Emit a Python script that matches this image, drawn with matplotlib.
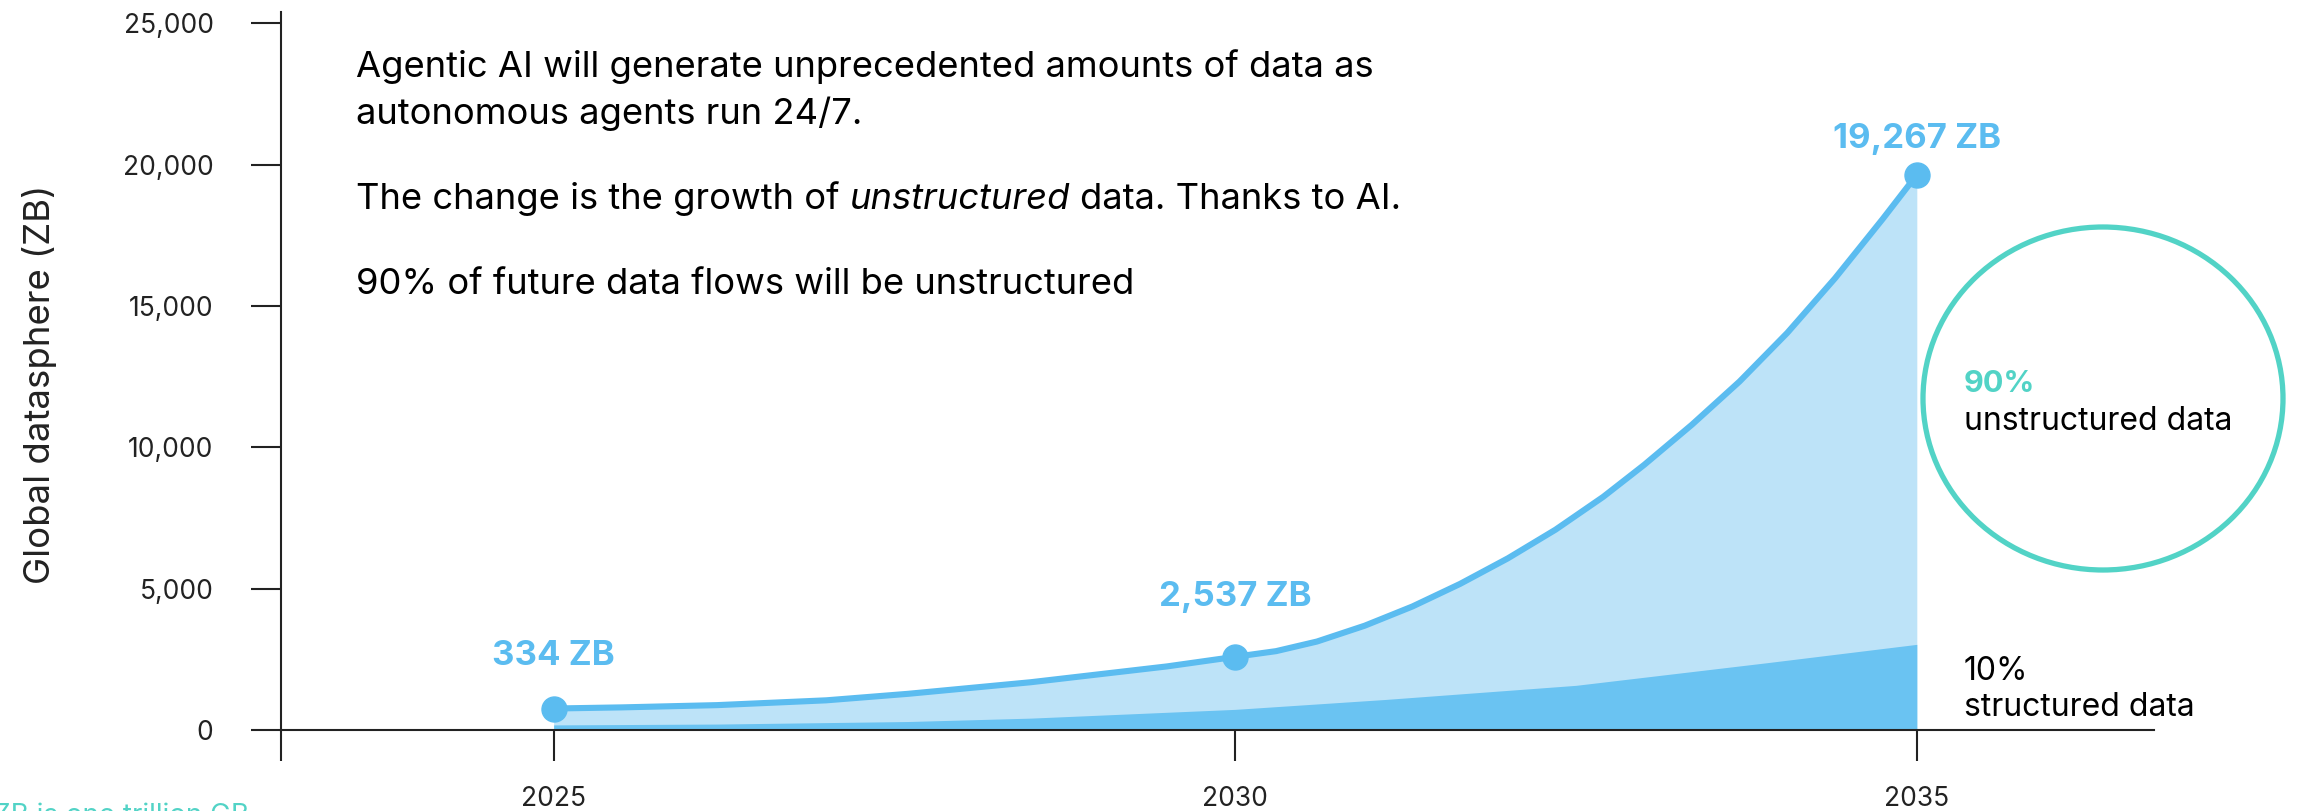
import matplotlib
matplotlib.use("Agg")
import matplotlib.pyplot as plt
from matplotlib.patches import Ellipse
from matplotlib.ticker import FuncFormatter

FONT = ["Inter", "DejaVu Sans"]
plt.rcParams["font.family"] = FONT

# ---------------- data ----------------
years_total = [2025, 2025.5, 2026.2, 2027.0, 2027.6, 2028.5, 2029.5, 2030,
               2030.3, 2030.6, 2030.95, 2031.3, 2031.65, 2032.0, 2032.35,
               2032.7, 2033.0, 2033.35, 2033.7, 2034.05, 2034.4, 2034.75, 2035]
total_zb = [760, 800, 880, 1050, 1280, 1690, 2250, 2590,
            2790, 3130, 3690, 4370, 5170, 6073, 7088,
            8250, 9380, 10800, 12330, 14050, 15980, 18080, 19640]

years_struct = [2025, 2026.2, 2027.6, 2028.5, 2030, 2031.1, 2032.5, 2033.9, 2035]
struct_zb = [180, 210, 300, 420, 730, 1080, 1580, 2380, 3030]

point_years = [2025, 2030, 2035]
point_zb = [760, 2590, 19640]
point_labels = ["334 ZB", "2,537 ZB", "19,267 ZB"]

x_ticks = [2023, 2025, 2030, 2035]
x_ticklabels = ["", "2025", "2030", "2035"]
y_ticks = [0, 5000, 10000, 15000, 20000, 25000]

text_lines = ["Agentic AI will generate unprecedented amounts of data as",
              "autonomous agents run 24/7."]
text_change = ["The change is the growth of", "unstructured", "data. Thanks to AI."]
text_last = "90% of future data flows will be unstructured"
footnote = "1 ZB is one trillion GB"

# ---------------- styling ----------------
W, H = 2298, 811
LINE = "#5BBCF0"
LIGHT = "#BDE3F8"
DARK = "#6AC3F2"
TEAL = "#52D3C6"
INK = "#222222"

fig = plt.figure(figsize=(W / 100, H / 100), dpi=100)
ax = fig.add_axes([281 / W, 1 - 730 / H, (2154 - 281) / W, (730 - 12) / H])

ax.fill_between(years_total, 0, total_zb, color=LIGHT, lw=0, zorder=1)
ax.fill_between(years_struct, 0, struct_zb, color=DARK, lw=0, zorder=2)
ax.plot(years_total, total_zb, color=LINE, lw=4.4, solid_capstyle="round",
        solid_joinstyle="round", zorder=3)
ax.plot(point_years, point_zb, "o", color=LINE, ms=18, zorder=4)

offsets = [38, 43, 26]
for xv, yv, lab, off in zip(point_years, point_zb, point_labels, offsets):
    ax.annotate(lab, (xv, yv), xytext=(0, off), textcoords="offset points",
                ha="center", va="center", color=LINE, fontsize=25,
                fontweight="bold")

ax.set_xlim(2023, 2036.74)
ax.set_ylim(0, 25400)
ax.set_xticks(x_ticks)
ax.set_xticklabels(x_ticklabels)
ax.set_yticks(y_ticks)
ax.yaxis.set_major_formatter(FuncFormatter(lambda v, p: f"{int(v):,}"))
for s in ["top", "right"]:
    ax.spines[s].set_visible(False)
for s in ["left", "bottom"]:
    ax.spines[s].set_color(INK)
    ax.spines[s].set_linewidth(1.5)
ax.tick_params(axis="y", length=21.6, width=1.5, pad=27, labelsize=19,
               colors=INK)
ax.tick_params(axis="x", length=22, width=1.5, pad=18, labelsize=19,
               colors=INK)

def F(x, y):
    return x / W, 1 - y / H

fig.text(*F(40, 384), "Global datasphere (ZB)", rotation=90, ha="center",
         va="center", fontsize=26.3, color=INK)

# main text block
fs_main = 26.2
fig.text(*F(356, 77), text_lines[0], ha="left", va="baseline",
         fontsize=fs_main, color="black")
fig.text(*F(356, 124), text_lines[1], ha="left", va="baseline",
         fontsize=fs_main, color="black")
fig.text(*F(356, 294), text_last, ha="left", va="baseline",
         fontsize=fs_main, color="black")

fig.canvas.draw()
r = fig.canvas.get_renderer()
t1 = fig.text(*F(356, 209), text_change[0], ha="left", va="baseline",
              fontsize=fs_main, color="black")
sp_a = fig.text(0, 0, "a a", fontsize=fs_main)
sp_b = fig.text(0, 0, "aa", fontsize=fs_main)
space = sp_a.get_window_extent(r).width - sp_b.get_window_extent(r).width
sp_a.remove(); sp_b.remove()
x1 = t1.get_window_extent(r).x1 + space
t2 = fig.text(x1 / W, 1 - 209 / H, text_change[1], ha="left", va="baseline",
              fontsize=fs_main, style="italic", color="black")
x2 = t2.get_window_extent(r).x1 + space
fig.text(x2 / W, 1 - 209 / H, text_change[2], ha="left", va="baseline",
         fontsize=fs_main, color="black")

# circle annotation
ell = Ellipse(F(2103, 398.5), 360 / W, 343 / H, transform=fig.transFigure,
              fill=False, ec=TEAL, lw=3.8)
fig.add_artist(ell)
fig.text(*F(1964, 392), "90%", ha="left", va="baseline", fontsize=22,
         fontweight="bold", color=TEAL)
fig.text(*F(1964, 430), "unstructured data", ha="left", va="baseline",
         fontsize=23, color="black")
fig.text(*F(1964, 680), "10%", ha="left", va="baseline", fontsize=23,
         color="black")
fig.text(*F(1964, 716), "structured data", ha="left", va="baseline",
         fontsize=23, color="black")

fig.text(*F(249, 823), footnote, ha="right", va="baseline", fontsize=20,
         color=TEAL)

fig.savefig("out.png", dpi=100)
